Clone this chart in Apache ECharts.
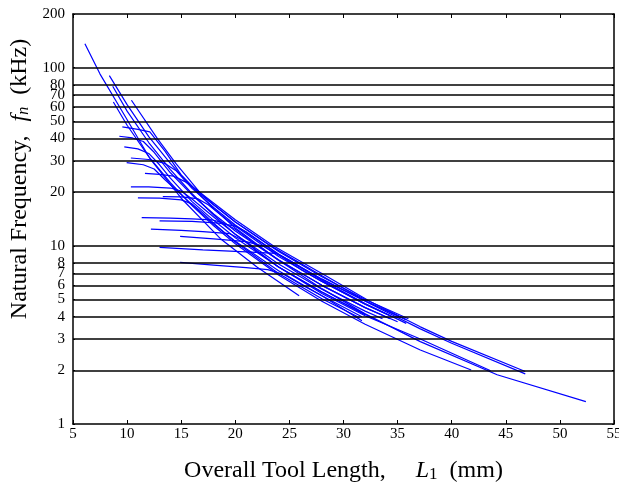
<!DOCTYPE html>
<html>
<head>
<meta charset="utf-8">
<script src="https://cdn.jsdelivr.net/npm/echarts@6/dist/echarts.min.js"></script>
<style>
  html, body { margin: 0; padding: 0; background: #fff; }
  #chart { width: 619px; height: 490px; }
</style>
</head>
<body>
<div id="chart"></div>
<script>
// axis values
const yLabelValues = [1, 2, 3, 4, 5, 6, 7, 8, 10, 20, 30, 40, 50, 60, 70, 80, 100, 200]
const gridValues = [2, 3, 4, 5, 6, 7, 8, 10, 20, 30, 40, 50, 60, 70, 80, 100]

// curves: [length mm, frequency kHz]
const thinLeft = [[6.1, 136], [7.5, 92], [9.5, 57.5], [12.1, 31], [15, 18.5], [18.6, 11], [22, 7.6], [25.9, 5.25]]
const long1 = [[8.36, 90.2], [10, 62], [12, 41], [14, 29], [16, 21.3], [18, 16.2], [20, 12.6], [24, 8.3], [28, 5.75], [32, 4.15], [37.1, 2.9], [44.2, 1.89], [52.4, 1.335]]
const long2 = [[8.67, 78.6], [10, 57], [12, 38], [14, 26.8], [16, 19.6], [18, 14.9], [20, 11.6], [24, 7.6], [28, 5.4], [32, 4.05], [37.1, 3.0], [43.6, 1.99]]
const long3 = [[8.73, 64.1], [10, 47.5], [12, 31.7], [14, 22.6], [16, 16.8], [18, 12.95], [20, 10.26], [24, 6.86], [28, 4.88], [32, 3.63], [37.1, 2.6], [41.8, 2.01]]
const long4 = [[10.4, 65.6], [12.8, 40], [14.5, 29], [16.7, 20], [20, 14], [23.5, 10], [28, 7.0], [32.5, 4.85], [37.1, 3.51], [40, 2.91], [46.8, 1.97]]
const long5 = [[9.56, 46.5], [11, 45], [12.1, 43.6], [13.5, 34], [15, 25], [16.7, 19.6], [20, 13.6], [23.5, 9.8], [28, 6.8], [32.5, 4.72], [37.1, 3.42], [40, 2.84], [46.8, 1.91]]
const flat2 = [[9.28, 41.2], [10.5, 40.3], [11.5, 38.5], [12.5, 33.5], [14, 25.7], [16, 19.3], [18, 15.1], [20, 12.1], [24, 8.3], [28, 6.0], [32, 4.5], [34.3, 3.9]]
const flat3 = [[9.74, 35.9], [11, 35], [12, 33], [13, 28.5], [14, 24], [16, 17.7], [18, 13.9], [20, 11.1], [24, 7.6], [28, 5.5], [32, 4.1]]
const flat4 = [[10.35, 31.1], [12, 30.5], [13.5, 29], [14.5, 26.5], [16, 21], [18, 16.4], [20, 13.1], [24, 8.95], [28, 6.4], [32, 4.75], [35.8, 3.67]]
const flat5 = [[9.96, 29.3], [11.5, 28.5], [12.5, 27], [13.5, 23.5], [15, 19.4], [16, 17], [18, 13.2], [20, 10.6], [24, 7.25], [28, 5.25], [31.7, 3.8]]
const flat6 = [[11.65, 25.5], [13, 25.2], [14.3, 24.6], [15.3, 23], [16.5, 20.5], [18, 17], [20, 13.6], [24, 9.3], [28, 6.7], [32, 5.0], [36, 3.9]]
const flat7 = [[10.35, 21.4], [12, 21.4], [14, 21.1], [15, 20.3], [16, 18.3], [18, 14.5], [20, 11.6], [24, 7.9], [28, 5.7], [32, 4.3], [33.6, 3.9]]
const flat8 = [[11, 18.6], [13, 18.5], [15, 18.1], [16, 17.2], [17, 15.3], [18, 13.4], [20, 10.5], [24, 7.0], [28, 5.05], [31.5, 3.95]]
const flat9 = [[13.3, 18.9], [15, 18.8], [16.5, 18.4], [17.5, 17], [18.5, 15.2], [20, 12.9], [24, 8.7], [28, 6.3], [32, 4.7], [34.5, 4.0]]
const flat10 = [[11.35, 14.4], [14, 14.3], [16, 14.15], [17.8, 14.0], [19, 13.4], [20, 12.4], [22, 10.1], [24, 8.35], [28, 6.0], [32, 4.5], [35, 3.75]]
const flat11 = [[13, 13.8], [16, 13.7], [18.5, 13.4], [20, 12.9], [21, 12], [22, 10.9], [24, 9.0], [28, 6.5], [32, 4.9], [35.8, 3.85]]
const flat12 = [[12.2, 12.4], [15, 12.2], [17, 12.0], [19.5, 11.7], [21, 10.5], [22, 9.3], [24, 7.6], [28, 5.5], [33, 3.85]]
const flat13 = [[14.9, 11.3], [18, 10.95], [21, 10.55], [22.5, 10.0], [24, 8.9], [26, 7.4], [28, 6.3], [32, 4.7], [34.3, 4.05]]
const flat14 = [[13, 9.8], [17, 9.5], [21, 9.25], [23.8, 9.06], [25, 8.3], [26, 7.6], [28, 6.5], [32, 4.9], [35.8, 3.85]]
const flat15 = [[14.9, 8.07], [18, 7.8], [21, 7.55], [23, 7.35], [24.5, 6.9], [26, 6.1], [28, 5.25], [31.7, 4.0]]

const curves = [thinLeft, long1, long2, long3, long4, long5, flat2, flat3, flat4, flat5,
  flat6, flat7, flat8, flat9, flat10, flat11, flat12, flat13, flat14, flat15]

const serif = 'Liberation Serif'
const chart = echarts.init(document.getElementById('chart'))

const series = curves.map((c, i) => ({
  name: 'c' + i,
  type: 'line',
  data: c,
  showSymbol: false,
  silent: true,
  z: 3,
  lineStyle: { color: '#0000ff', width: 1.2 },
}))

// horizontal reference lines
series.push({
  name: 'grid',
  type: 'line',
  data: [],
  z: 2,
  silent: true,
  markLine: {
    silent: true,
    symbol: 'none',
    label: { show: false },
    animation: false,
    lineStyle: { color: '#000', width: 1.6, type: 'solid' },
    data: gridValues.map((v) => ({ yAxis: v })),
  },
})

chart.setOption({
  animation: false,
  grid: { left: 73, right: 5, top: 14, bottom: 66, containLabel: false, outerBoundsMode: 'none' },
  xAxis: [{
    type: 'value',
    min: 5,
    max: 55,
    interval: 5,
    position: 'bottom',
    axisLine: { lineStyle: { color: '#000', width: 1.5 } },
    axisTick: { inside: true, length: 4, lineStyle: { color: '#000' } },
    axisLabel: { color: '#000', fontFamily: serif, fontSize: 15, margin: 3 },
    splitLine: { show: false },
    name: '{t|Overall Tool Length,}{it|L}{sub|1}{t|  (mm)}',
    nameLocation: 'middle',
    nameGap: 35,
    nameTextStyle: {
      color: '#000', fontFamily: serif, fontSize: 24,
      rich: {
        t: { fontFamily: serif, fontSize: 24, color: '#000' },
        it: { fontFamily: serif, fontSize: 24, fontStyle: 'italic', color: '#000', padding: [0, 0, 0, 30] },
        sub: { fontFamily: serif, fontSize: 17, verticalAlign: 'bottom', color: '#000' },
      },
    },
  }, {
    type: 'value',
    min: 5,
    max: 55,
    interval: 5,
    position: 'top',
    axisLine: { lineStyle: { color: '#000', width: 1.5 } },
    axisTick: { inside: true, length: 4, lineStyle: { color: '#000' } },
    axisLabel: { show: false },
    splitLine: { show: false },
  }],
  yAxis: [{
    type: 'log',
    logBase: 10,
    min: 1,
    max: 200,
    position: 'left',
    axisLine: { show: true, lineStyle: { color: '#000', width: 1.5 } },
    axisTick: { inside: true, length: 2, customValues: yLabelValues, lineStyle: { color: '#000' } },
    axisLabel: { color: '#000', fontFamily: serif, fontSize: 15, margin: 8, customValues: yLabelValues },
    splitLine: { show: false },
    minorTick: { show: false },
    name: '{t|Natural Frequency,}{it|f}{sub|n}{t|  (kHz)}',
    nameLocation: 'middle',
    nameRotate: 90,
    nameGap: 41,
    nameTextStyle: {
      color: '#000', fontFamily: serif, fontSize: 24,
      padding: [0, 0, 0, 80],
      rich: {
        t: { fontFamily: serif, fontSize: 24, color: '#000' },
        it: { fontFamily: serif, fontSize: 24, fontStyle: 'italic', color: '#000', padding: [0, 0, 0, 14] },
        sub: { fontFamily: serif, fontSize: 16, fontStyle: 'italic', verticalAlign: 'bottom', color: '#000' },
      },
    },
  }, {
    type: 'log',
    logBase: 10,
    min: 1,
    max: 200,
    position: 'right',
    axisLine: { show: true, lineStyle: { color: '#000', width: 1.5 } },
    axisTick: { inside: true, length: 2, customValues: yLabelValues, lineStyle: { color: '#000' } },
    axisLabel: { show: false },
    splitLine: { show: false },
  }],
  series: series,
})
</script>
</body>
</html>
